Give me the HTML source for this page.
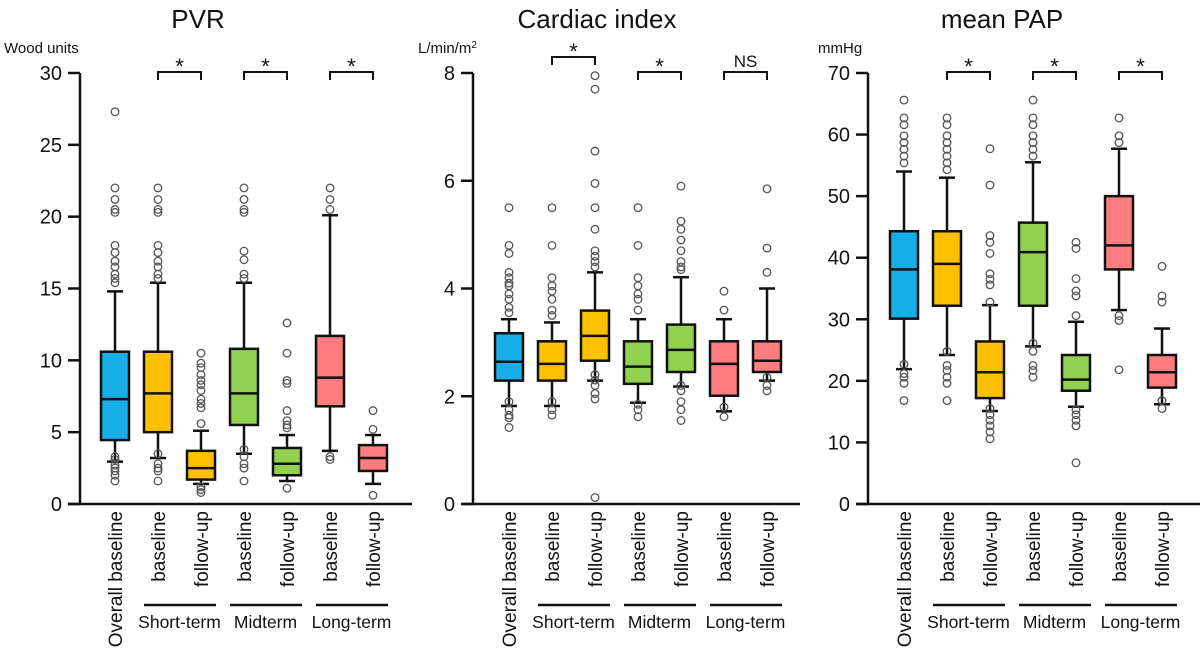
<!DOCTYPE html>
<html><head><meta charset="utf-8"><style>
body{margin:0;background:#fff;}
svg{display:block;font-family:"Liberation Sans",Arial,sans-serif;}
</style></head><body>
<svg id="chart" width="1200" height="651" viewBox="0 0 1200 651"></svg>
<script>
// ---- data ----
const categories = ["Overall baseline","baseline","follow-up","baseline","follow-up","baseline","follow-up"];
const groupNames = ["Short-term","Midterm","Long-term"];
const boxColors = ["#17ade8","#ffc000","#ffc000","#92d050","#92d050","#ff7c80","#ff7c80"];
const panelTitles = ["PVR","Cardiac index","mean PAP"];
const panelUnits = ["Wood units","L/min/m","mmHg"];
const pvrTicks = [0,5,10,15,20,25,30];
const ciTicks = [0,2,4,6,8];
const papTicks = [0,10,20,30,40,50,60,70];
// [whiskerLow, q1, median, q3, whiskerHigh]
const pvrBoxes = [[2.95,4.45,7.3,10.6,14.8],[3.2,5.0,7.7,10.6,15.4],[1.4,1.7,2.5,3.7,5.1],[3.5,5.5,7.7,10.8,15.4],[1.6,2.0,2.8,3.9,4.8],[3.7,6.8,8.8,11.7,20.1],[1.4,2.3,3.2,4.1,4.8]];
const pvrOutliers = [[27.3,22,21.2,20.5,20.3,18,17.5,16.9,16.5,16,15.7,15.4,3.3,3.1,2.7,2.5,2.3,2.0,1.6],[22,21.2,20.5,20.3,18,17.5,16.9,16.5,16,15.7,3.5,2.8,2.5,2.3,1.6],[10.5,9.8,9.5,9,8.6,8.3,7.9,7.3,7.0,6.7,5.6,1.2,1.0,0.8],[22,21.2,20.5,20.3,17.6,17,16,15.7,3.8,3.3,2.8,2.5,1.6],[12.6,10.5,8.6,8.4,6.5,5.8,5.5,5.3,1.1],[22,21.2,20.5,3.3,3.1],[6.5,5.2,0.6]];
const ciBoxes = [[1.82,2.29,2.64,3.17,3.43],[1.82,2.29,2.6,3.02,3.37],[2.29,2.66,3.12,3.59,4.3],[1.88,2.23,2.55,3.02,3.43],[2.18,2.45,2.86,3.33,4.21],[1.72,2.01,2.6,3.02,3.43],[2.29,2.45,2.66,3.02,4.0]];
const ciOutliers = [[5.5,4.8,4.65,4.3,4.2,4.1,4.05,3.9,3.8,3.65,3.55,1.9,1.75,1.65,1.6,1.42],[5.5,4.8,4.2,4.05,3.95,3.8,3.6,3.5,1.9,1.75,1.65],[7.95,7.7,6.55,5.95,5.5,5.1,4.7,4.6,4.5,4.4,2.4,2.3,2.2,2.05,1.95,0.12],[5.5,4.8,4.2,4.05,3.9,3.8,3.6,1.85,1.75,1.62],[5.9,5.25,5.1,4.9,4.7,4.5,4.4,4.35,2.2,2.1,1.9,1.75,1.55],[3.95,3.6,1.8,1.62],[5.85,4.75,4.3,2.35,2.2,2.1]];
const papBoxes = [[21.9,30.1,38.1,44.3,54],[24.2,32.2,39,44.3,53],[15.1,17.2,21.4,26.4,32.3],[25.6,32.2,40.9,45.7,55.5],[15.8,18.4,20.2,24.2,29.6],[31.5,38.1,42,50,57.7],[16.2,18.9,21.4,24.2,28.5]];
const papOutliers = [[65.6,62.7,61.6,59.8,58.7,57.6,56.5,55.4,22.7,21.2,20.6,19.6,16.8],[62.7,61.6,59.8,58.7,57.6,56.5,55.4,54.3,24.8,22.5,21.7,20.6,19.6,16.8],[57.7,51.8,43.6,42.5,40.7,37.4,36.5,35.6,32.8,15.5,14.5,13.6,12.7,11.7,10.6],[65.6,62.7,61.6,59.8,58.7,57.6,56.5,26.1,24.8,22.5,21.7,20.6],[42.5,41.5,36.6,34.6,33.8,30.6,15.3,14.5,13.6,12.7,6.7],[62.7,59.8,58.7,30.6,29.8,21.8],[38.6,33.8,32.8,16.8,15.5]];
const sigLabels = [["*","*","*"],["*","*","NS"],["*","*","*"]];

const NS="http://www.w3.org/2000/svg";
const svg=document.getElementById('chart');
function mk(tag,attrs,parent,text){const e=document.createElementNS(NS,tag);for(const k in attrs)e.setAttribute(k,attrs[k]);if(text!==undefined)e.textContent=text;(parent||svg).appendChild(e);return e;}

const panels=[
 {axisX:80,x0:68,x1:412,c0:115,dx:43,max:30,ticks:pvrTicks,boxes:pvrBoxes,out:pvrOutliers,titleX:198,unitX:4,brY:[72,72,72],name:'pvr'},
 {axisX:473,x0:462,x1:800,c0:509,dx:43,max:8,ticks:ciTicks,boxes:ciBoxes,out:ciOutliers,titleX:597,unitX:418,brY:[57,72,72],name:'cardiac-index'},
 {axisX:868,x0:856,x1:1200,c0:904,dx:43,max:70,ticks:papTicks,boxes:papBoxes,out:papOutliers,titleX:1002,unitX:818,brY:[72,72,72],name:'mean-pap'}
];
const Y0=504,Y1=73;
panels.forEach((p,pi)=>{
 const g=mk('g',{});
 
 
 const y=v=>Y0-(v/p.max)*(Y0-Y1);
 const cx=i=>p.c0+i*p.dx;
 const t=mk('text',{x:p.titleX,y:28,'font-size':26,'text-anchor':'middle',fill:'#111'},g,panelTitles[pi]);
 
 
 const u=mk('text',{x:p.unitX,y:53,'font-size':15,fill:'#111'},g,panelUnits[pi]);
 
 
 if(pi===1){mk('tspan',{'baseline-shift':'super','font-size':10},u,'2');}
 const ya=mk('line',{x1:p.axisX,y1:Y1,x2:p.axisX,y2:Y0,stroke:'#111','stroke-width':2.5},g);
 
 
 const xa=mk('line',{x1:p.x0,y1:Y0,x2:p.x1,y2:Y0,stroke:'#111','stroke-width':2.5},g);
 
 
 p.ticks.forEach(v=>{
  mk('line',{x1:p.axisX-12,y1:y(v),x2:p.axisX,y2:y(v),stroke:'#111','stroke-width':2.5},g);
  const tl=mk('text',{x:p.axisX-18,y:y(v)+7,'font-size':20,'text-anchor':'end',fill:'#111'},g,String(v));
  
  
 });
 p.boxes.forEach((b,i)=>{
  const x=cx(i),w=28;
  const bg=mk('g',{},g);
  
  
  mk('line',{x1:x,y1:y(b[0]),x2:x,y2:y(b[4]),stroke:'#111','stroke-width':2.5},bg);
  mk('line',{x1:x-8,y1:y(b[0]),x2:x+8,y2:y(b[0]),stroke:'#111','stroke-width':2.5},bg);
  mk('line',{x1:x-8,y1:y(b[4]),x2:x+8,y2:y(b[4]),stroke:'#111','stroke-width':2.5},bg);
  mk('rect',{x:x-w/2,y:y(b[3]),width:w,height:y(b[1])-y(b[3]),fill:boxColors[i],stroke:'#111','stroke-width':2.5},bg);
  mk('line',{x1:x-w/2,y1:y(b[2]),x2:x+w/2,y2:y(b[2]),stroke:'#111','stroke-width':2.5},bg);
  p.out[i].forEach(v=>{
   const c=mk('circle',{cx:x,cy:y(v),r:3.8,fill:'none',stroke:'#555','stroke-width':1.3},bg);
   
   
  });
  const lab=mk('text',{x:0,y:0,'font-size':19,'text-anchor':'end',fill:'#111',transform:`translate(${x+7},511) rotate(-90)`},g,categories[i]);
  
  
 });
 for(let k=0;k<3;k++){
  const xa1=cx(1+2*k),xb=cx(2+2*k),by=p.brY[k];
  const br=mk('path',{d:`M${xa1},${by+8}V${by}H${xb}V${by+8}`,fill:'none',stroke:'#111','stroke-width':2},g);
  
  
  const s=sigLabels[pi][k];
  const st=mk('text',{x:(xa1+xb)/2,y:s==='*'?by+2:by-5,'font-size':s==='*'?22:17,'text-anchor':'middle',fill:'#111'},g,s);
  
  
  const gl=mk('line',{x1:xa1-14,y1:605,x2:xb+15,y2:605,stroke:'#111','stroke-width':2.5},g);
  
  
  const gt=mk('text',{x:(xa1+xb)/2,y:628,'font-size':17.5,'text-anchor':'middle',fill:'#111'},g,groupNames[k]);
  
  
 }
});
</script>
</body></html>
